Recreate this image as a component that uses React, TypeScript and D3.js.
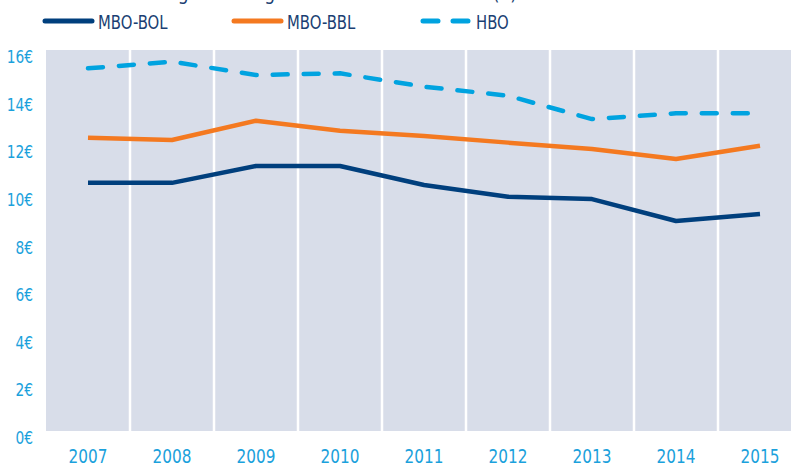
import React from "react";
import * as d3 from "d3";

const years = ["2007", "2008", "2009", "2010", "2011", "2012", "2013", "2014", "2015"];
const mboBol = [10.42, 10.42, 11.13, 11.13, 10.33, 9.84, 9.74, 8.82, 9.11];
const mboBbl = [12.32, 12.22, 13.03, 12.61, 12.39, 12.11, 11.84, 11.42, 11.98];
const hbo = [15.23, 15.51, 14.95, 15.02, 14.46, 14.08, 13.1, 13.34, 13.34];
const yTicks = [0, 2, 4, 6, 8, 10, 12, 14, 16];

const series = [
  { name: "MBO-BOL", values: mboBol, color: "#003f7d", dash: "" },
  { name: "MBO-BBL", values: mboBbl, color: "#f47920", dash: "" },
  { name: "HBO", values: hbo, color: "#00a3e0", dash: "15 16" },
];

const W = 791;
const H = 465;
const FONT = "'Liberation Sans Narrow', 'DejaVu Sans Condensed', Arial, sans-serif";

export default function App() {
  // plot area runs past the right edge of the picture
  const x = d3.scaleBand().domain(years).range([46, 46 + 84 * years.length]).padding(0);
  const y = d3.scaleLinear().domain([0, 16]).range([431, 50]);
  const cx = (d: string) => (x(d) as number) + x.bandwidth() / 2;

  const line = d3
    .line<number>()
    .x((_, i) => cx(years[i]))
    .y((v) => y(v));

  return (
    <svg
      width={W}
      height={H}
      style={{ position: "absolute", left: 0, top: 0, background: "#fff" }}
      fontFamily={FONT}
    >
      {/* title, mostly cut off at the top */}
      <text x={517} y={0} textAnchor="end" fontSize={19} fill="#1b3f73">
        Ontwikkeling van het gemiddelde bruto uurloon (€)
      </text>

      {/* legend */}
      {series.map((s, i) => {
        const lx = 43 + i * 189;
        return (
          <g key={s.name}>
            <line
              x1={lx + 2}
              x2={lx + 49}
              y1={21}
              y2={21}
              stroke={s.color}
              strokeWidth={5}
              strokeLinecap="round"
              strokeDasharray={s.dash ? "15 15" : undefined}
            />
            <text
              transform={`translate(${lx + 55},29) scale(0.87,1)`}
              fontSize={19}
              fill="#1b3f73"
            >
              {s.name}
            </text>
          </g>
        );
      })}

      {/* plot background bands */}
      <rect x={x.range()[0]} y={y(16)} width={x.range()[1] - x.range()[0]} height={y(0) - y(16)} fill="#d8dde9" />
      {years.slice(1).map((d) => (
        <line key={d} x1={x(d) as number} x2={x(d) as number} y1={y(16)} y2={y(0)} stroke="#fff" strokeWidth={2.5} />
      ))}

      {/* y labels */}
      {yTicks.map((t) => (
        <text
          key={t}
          transform={`translate(33,${y(t) + 13}) scale(0.9,1)`}
          textAnchor="end"
          fontSize={17}
          fill="#1ba1dc"
        >
          {t}€
        </text>
      ))}

      {/* x labels */}
      {years.map((d) => (
        <text
          key={d}
          transform={`translate(${cx(d)},463) scale(0.85,1)`}
          textAnchor="middle"
          fontSize={20}
          fill="#1ba1dc"
        >
          {d}
        </text>
      ))}

      {/* lines */}
      {series.map((s) => (
        <path
          key={s.name}
          d={line(s.values) || ""}
          fill="none"
          stroke={s.color}
          strokeWidth={4.5}
          strokeLinejoin="round"
          strokeLinecap={s.dash ? "round" : "butt"}
          strokeDasharray={s.dash || undefined}
        />
      ))}
    </svg>
  );
}
